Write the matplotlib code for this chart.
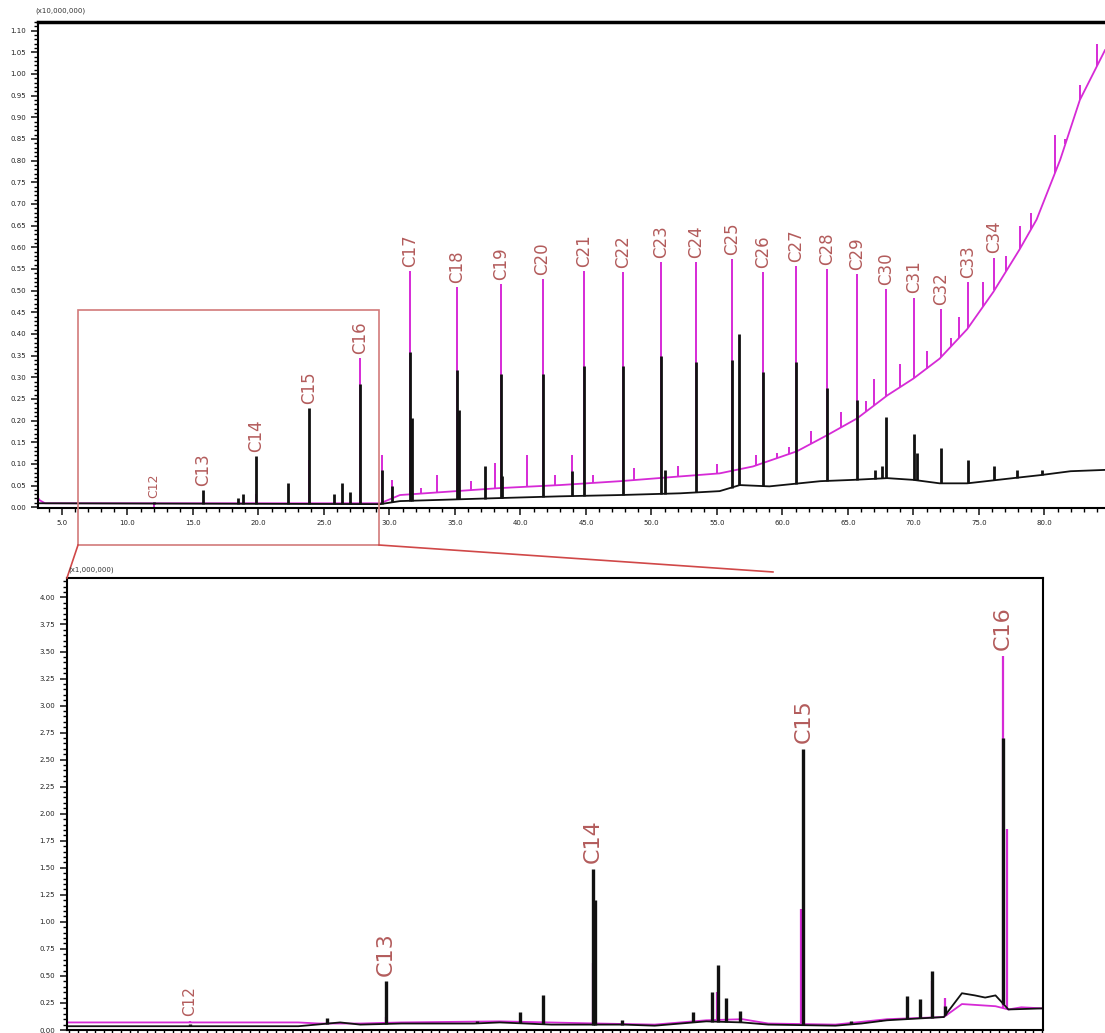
import matplotlib.pyplot as plt
import numpy as np
from matplotlib.patches import Rectangle
from matplotlib.lines import Line2D
from matplotlib.ticker import MultipleLocator, FormatStrFormatter

# n-alcanos marcados (tempo de retencao, min)
carbon_labels = ['C12', 'C13', 'C14', 'C15', 'C16', 'C17', 'C18', 'C19', 'C20', 'C21', 'C22', 'C23',
                 'C24', 'C25', 'C26', 'C27', 'C28', 'C29', 'C30', 'C31', 'C32', 'C33', 'C34']
carbon_times = [12.0, 15.79, 19.81, 23.88, 27.75, 31.6, 35.13, 38.49, 41.69, 44.85, 47.8, 50.7,
                53.4, 56.12, 58.53, 61.01, 63.42, 65.71, 67.9, 70.04, 72.08, 74.18, 76.17]

# cromatograma completo (x10,000,000)
top_magenta_peaks = [0.0, 0.012, 0.03, 0.11, 0.344, 0.545, 0.508, 0.515, 0.526, 0.545, 0.542, 0.565,
                     0.565, 0.572, 0.542, 0.557, 0.549, 0.538, 0.503, 0.484, 0.457, 0.519, 0.576]
top_black_peaks = [0.012, 0.040, 0.118, 0.228, 0.285, 0.359, 0.316, 0.308, 0.308, 0.327, 0.327, 0.350,
                   0.336, 0.339, 0.312, 0.335, 0.274, 0.247, 0.209, 0.168, 0.136, 0.109, 0.096]

top_magenta_base_t = [3.17, 3.3, 3.7, 29.3, 30.8, 38.4, 43.0, 47.6, 52.2, 55.2, 57.75, 61.1, 63.4,
                      65.7, 68.0, 70.0, 72.0, 74.1, 76.1, 78.1, 79.4, 81.2, 82.7, 84.62]
top_magenta_base_v = [0.021, 0.016, 0.009, 0.009, 0.028, 0.044, 0.051, 0.060, 0.071, 0.078, 0.094, 0.129,
                      0.166, 0.205, 0.258, 0.297, 0.343, 0.411, 0.497, 0.595, 0.664, 0.802, 0.940, 1.055]
top_black_base_t = [3.17, 29.3, 30.8, 38.4, 43.0, 47.6, 52.2, 55.2, 56.75, 59.0, 62.9, 65.4, 68.0,
                    70.0, 72.0, 74.1, 77.6, 79.7, 82.0, 84.62]
top_black_base_v = [0.009, 0.007, 0.014, 0.021, 0.025, 0.028, 0.032, 0.037, 0.051, 0.048, 0.060, 0.063,
                    0.067, 0.063, 0.055, 0.055, 0.067, 0.074, 0.083, 0.086]

top_magenta_minor_t = [29.4, 30.2, 32.4, 33.6, 36.2, 38.05, 40.5, 42.6, 43.9, 45.5, 48.7, 52.0, 55.0,
                       58.0, 59.6, 60.5, 62.2, 64.5, 66.4, 67.0, 69.0, 71.0, 72.9, 73.5, 75.3, 77.1,
                       78.1, 79.0, 80.8, 81.6, 82.7, 84.0]
top_magenta_minor_v = [0.12, 0.063, 0.045, 0.074, 0.06, 0.101, 0.12, 0.075, 0.12, 0.074, 0.09, 0.095, 0.10,
                       0.12, 0.125, 0.14, 0.175, 0.22, 0.245, 0.297, 0.33, 0.36, 0.39, 0.44, 0.52, 0.58,
                       0.648, 0.68, 0.86, 0.85, 0.975, 1.07]
top_black_minor_t = [18.4, 18.8, 22.25, 25.8, 26.4, 27.0, 29.4, 30.2, 31.75, 35.28, 37.3, 38.6, 43.9,
                     51.0, 56.68, 67.06, 67.6, 70.3, 77.9, 79.8]
top_black_minor_v = [0.022, 0.03, 0.055, 0.03, 0.055, 0.035, 0.086, 0.048, 0.205, 0.224, 0.094, 0.071,
                     0.083, 0.086, 0.40, 0.086, 0.094, 0.124, 0.086, 0.086]

# ampliacao 10-28 min (x1,000,000)
zoom_labels = carbon_labels[:5]
zoom_times = carbon_times[:5]
zoom_magenta_peaks = [0.08, 0.12, 0.62, 1.12, 3.46]
zoom_black_peaks = [0.06, 0.45, 1.49, 2.60, 2.70]

zoom_magenta_base_t = [9.62, 14.1, 14.5, 15.3, 16.1, 18.0, 19.9, 21.0, 22.0, 22.7, 23.2, 24.5, 25.5,
                       26.6, 26.95, 27.6, 27.85, 28.1, 28.52]
zoom_magenta_base_v = [0.07, 0.07, 0.06, 0.06, 0.07, 0.08, 0.06, 0.05, 0.09, 0.10, 0.06, 0.05, 0.10,
                       0.12, 0.24, 0.22, 0.19, 0.21, 0.20]
zoom_black_base_t = [9.62, 14.1, 14.45, 14.91, 15.3, 16.1, 17.5, 18.0, 19.0, 20.4, 21.0, 21.5, 22.0,
                     22.7, 23.2, 24.5, 25.0, 25.5, 26.6, 26.95, 27.2, 27.4, 27.6, 27.85, 28.52]
zoom_black_base_v = [0.035, 0.035, 0.05, 0.07, 0.05, 0.06, 0.06, 0.07, 0.05, 0.05, 0.04, 0.06, 0.08,
                     0.07, 0.05, 0.04, 0.06, 0.09, 0.12, 0.34, 0.32, 0.30, 0.32, 0.19, 0.20]

zoom_magenta_minor_t = [22.2, 23.84, 26.37, 26.63, 27.83]
zoom_magenta_minor_v = [0.35, 1.12, 0.45, 0.30, 1.86]
zoom_black_minor_t = [14.66, 17.56, 18.39, 18.84, 19.85, 20.37, 21.75, 22.11, 22.23, 22.38, 22.65,
                      24.8, 25.37, 25.89, 26.14, 26.37, 26.63]
zoom_black_minor_v = [0.11, 0.08, 0.17, 0.32, 1.2, 0.09, 0.17, 0.35, 0.60, 0.30, 0.18,
                      0.08, 0.09, 0.31, 0.29, 0.55, 0.22]

MAG = '#d62ad6'
BLK = '#111111'
LAB = '#b35c5c'


def draw_trace(ax, base_t, base_v, peak_t, peak_v, color, lw_peak):
    """Linha de base e picos (linhas verticais desde a base)."""
    ax.plot(base_t, base_v, color=color, lw=1.3)
    foot = np.interp(peak_t, base_t, base_v)
    ax.vlines(peak_t, foot, peak_v, color=color, lw=lw_peak)


def style_axis(ax, ymajor, yminor, fmt):
    ax.yaxis.set_major_locator(MultipleLocator(ymajor))
    ax.yaxis.set_minor_locator(MultipleLocator(yminor))
    ax.yaxis.set_major_formatter(FormatStrFormatter(fmt))
    ax.tick_params(axis='both', which='major', length=5, width=1.2, labelsize=5, colors='#222222')
    ax.tick_params(axis='both', which='minor', length=3, width=1)
    for s in ax.spines.values():
        s.set_linewidth(1.5)


fig = plt.figure(figsize=(11.05, 10.33), dpi=100)

# grafico de cima
ax1 = fig.add_axes([0.0344, 0.5082, 0.9656, 0.4705])
draw_trace(ax1, top_magenta_base_t, top_magenta_base_v,
           carbon_times + top_magenta_minor_t, top_magenta_peaks + top_magenta_minor_v, MAG, 1.4)
draw_trace(ax1, top_black_base_t, top_black_base_v,
           carbon_times + top_black_minor_t, top_black_peaks + top_black_minor_v, BLK, 2.0)
ax1.set_xlim(3.17, 84.62)
ax1.set_ylim(-0.002, 1.12)
ax1.xaxis.set_major_locator(MultipleLocator(5))
ax1.xaxis.set_minor_locator(MultipleLocator(1))
ax1.xaxis.set_major_formatter(FormatStrFormatter('%.1f'))
style_axis(ax1, 0.05, 0.01, '%.2f')
ax1.spines['right'].set_visible(False)
ax1.spines['top'].set_linewidth(2.5)

for name, t, m, b in zip(carbon_labels, carbon_times, top_magenta_peaks, top_black_peaks):
    ax1.annotate(name, (t, max(m, b)), xytext=(0, 3), textcoords='offset points',
                 rotation=90, ha='center', va='bottom', color=LAB,
                 fontsize=9 if name == 'C12' else 12)

fig.text(0.032, 0.988, '(x10,000,000)', fontsize=5, color='#333333')

# grafico ampliado
ax2 = fig.add_axes([0.0606, 0.0029, 0.8833, 0.4376])
draw_trace(ax2, zoom_magenta_base_t, zoom_magenta_base_v,
           zoom_times + zoom_magenta_minor_t, zoom_magenta_peaks + zoom_magenta_minor_v, MAG, 1.6)
draw_trace(ax2, zoom_black_base_t, zoom_black_base_v,
           zoom_times + zoom_black_minor_t, zoom_black_peaks + zoom_black_minor_v, BLK, 2.4)
ax2.set_xlim(9.62, 28.52)
ax2.set_ylim(0, 4.18)
ax2.xaxis.set_major_locator(MultipleLocator(1))
ax2.xaxis.set_minor_locator(MultipleLocator(1 / 6))
style_axis(ax2, 0.25, 0.05, '%.2f')
ax2.tick_params(axis='x', labelbottom=False)

for name, t, m, b in zip(zoom_labels, zoom_times, zoom_magenta_peaks, zoom_black_peaks):
    ax2.annotate(name, (t, max(m, b)), xytext=(0, 4), textcoords='offset points',
                 rotation=90, ha='center', va='bottom', color=LAB,
                 fontsize=11 if name == 'C12' else 16)

fig.text(0.0615, 0.4463, '(x1,000,000)', fontsize=5, color='#333333')

# caixa de ampliacao e linhas de ligacao
fig.add_artist(Rectangle((0.0706, 0.4724), 0.2724, 0.2275, fill=False, ec='#d27a7a', lw=1.2))
fig.add_artist(Line2D([0.0706, 0.0606], [0.4724, 0.4405], color='#d04848', lw=1.2))
fig.add_artist(Line2D([0.343, 0.6995], [0.4724, 0.4463], color='#d04848', lw=1.2))

fig.savefig('out.png', dpi=100)
